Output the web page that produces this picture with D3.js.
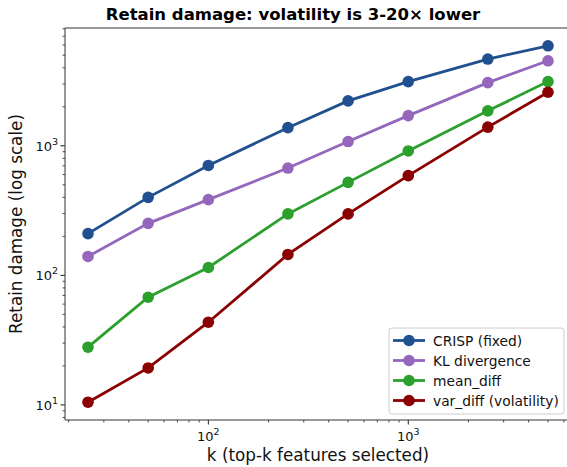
<!DOCTYPE html>
<html>
<head>
<meta charset="utf-8">
<script src="https://cdn.jsdelivr.net/npm/d3@7"></script>
<style>
  body { margin: 0; background: #fff; }
  svg { font-family: "DejaVu Sans", sans-serif; }
</style>
</head>
<body>
<div id="chart"></div>
<script>
// data
const kValues = [25, 50, 100, 250, 500, 1000, 2500, 5000];
const crisp   = [210, 400, 705, 1380, 2220, 3130, 4670, 5910];
const klDiv   = [140, 252, 384, 673, 1078, 1710, 3070, 4530];
const meanDiff = [27.9, 67.8, 115, 298, 522, 912, 1860, 3130];
const varDiff = [10.5, 19.3, 43.5, 145, 298, 588, 1393, 2590];
const seriesNames = ["CRISP (fixed)", "KL divergence", "mean_diff", "var_diff (volatility)"];
const seriesColors = ["#20508f", "#9467bd", "#2ca02c", "#8b0000"];
const xTickValues = [100, 1000];
const yTickValues = [10, 100, 1000];

const width = 567, height = 467;
const margin = {top: 28, right: -4, bottom: 47, left: 65};

const series = [crisp, klDiv, meanDiff, varDiff].map((vals, i) => ({
  name: seriesNames[i], color: seriesColors[i],
  points: vals.map((v, j) => ({k: kValues[j], v: v}))
}));

const svg = d3.select("#chart").append("svg")
  .attr("width", width).attr("height", height);

// log domains padded like matplotlib (5% of log span)
function padLog(lo, hi) {
  const a = Math.log10(lo), b = Math.log10(hi), p = (b - a) * 0.05;
  return [Math.pow(10, a - p), Math.pow(10, b + p)];
}
const allV = [].concat(crisp, klDiv, meanDiff, varDiff);

const x = d3.scaleLog()
  .domain(padLog(d3.min(kValues), d3.max(kValues)))
  .range([margin.left, width - margin.right]);
const y = d3.scaleLog()
  .domain(padLog(d3.min(allV), d3.max(allV)))
  .range([height - margin.bottom, margin.top]);

const x0 = margin.left, x1 = width - margin.right;
const y0 = height - margin.bottom, y1 = margin.top;

// minor ticks
function minorTicks(scale) {
  const [lo, hi] = scale.domain();
  const out = [];
  for (let e = Math.floor(Math.log10(lo)); e <= Math.ceil(Math.log10(hi)); e++) {
    for (let m = 2; m <= 9; m++) {
      const v = m * Math.pow(10, e);
      if (v >= lo && v <= hi) out.push(v);
    }
  }
  return out;
}

const ax = svg.append("g");
ax.selectAll(".xminor").data(minorTicks(x)).enter().append("line")
  .attr("x1", d => x(d)).attr("x2", d => x(d))
  .attr("y1", y0).attr("y2", y0 + 2.5)
  .attr("stroke", "#000").attr("stroke-width", 0.7);
ax.selectAll(".yminor").data(minorTicks(y)).enter().append("line")
  .attr("y1", d => y(d)).attr("y2", d => y(d))
  .attr("x1", x0).attr("x2", x0 - 2.5)
  .attr("stroke", "#000").attr("stroke-width", 0.7);
ax.selectAll(".xmajor").data(xTickValues).enter().append("line")
  .attr("x1", d => x(d)).attr("x2", d => x(d))
  .attr("y1", y0).attr("y2", y0 + 4.5)
  .attr("stroke", "#000").attr("stroke-width", 0.9);
ax.selectAll(".ymajor").data(yTickValues).enter().append("line")
  .attr("y1", d => y(d)).attr("y2", d => y(d))
  .attr("x1", x0).attr("x2", x0 - 4.5)
  .attr("stroke", "#000").attr("stroke-width", 0.9);

// tick labels as 10^n
function powLabel(sel) {
  sel.each(function(d) {
    const t = d3.select(this);
    t.append("tspan").text("10");
    t.append("tspan").attr("dy", -6).attr("font-size", 9.5)
      .text(Math.round(Math.log10(d)));
  });
}
ax.selectAll(".xlab").data(xTickValues).enter().append("text")
  .attr("x", d => x(d)).attr("y", y0 + 21)
  .attr("text-anchor", "middle").attr("font-size", 13).attr("fill", "#111")
  .call(powLabel);
ax.selectAll(".ylab").data(yTickValues).enter().append("text")
  .attr("x", x0 - 7).attr("y", d => y(d) + 5)
  .attr("text-anchor", "end").attr("font-size", 13).attr("fill", "#111")
  .call(powLabel);

// lines and markers
const line = d3.line().x(d => x(d.k)).y(d => y(d.v));
const g = svg.append("g");
series.forEach(s => {
  g.append("path").datum(s.points)
    .attr("d", line).attr("fill", "none")
    .attr("stroke", s.color).attr("stroke-width", 2.8);
  g.selectAll(null).data(s.points).enter().append("circle")
    .attr("cx", d => x(d.k)).attr("cy", d => y(d.v)).attr("r", 5.8)
    .attr("fill", s.color);
});

// spines
svg.append("path")
  .attr("d", `M${x1},${y1}H${x0}V${y0}H${x1}`)
  .attr("fill", "none").attr("stroke", "#333").attr("stroke-width", 1);

// title and axis labels
svg.append("text").attr("x", 293).attr("y", 20)
  .attr("text-anchor", "middle").attr("font-size", 16.5).attr("font-weight", "bold")
  .text("Retain damage: volatility is 3-20× lower");
svg.append("text").attr("x", (x0 + x1) / 2).attr("y", 461)
  .attr("text-anchor", "middle").attr("font-size", 16.8).attr("fill", "#111")
  .text("k (top-k features selected)");
svg.append("text")
  .attr("transform", `translate(22,${(y0 + y1) / 2}) rotate(-90)`)
  .attr("text-anchor", "middle").attr("font-size", 16.8).attr("fill", "#111")
  .text("Retain damage (log scale)");

// legend
const lg = svg.append("g").attr("transform", "translate(389,328)");
lg.append("rect").attr("width", 175).attr("height", 86).attr("rx", 3)
  .attr("fill", "#fff").attr("fill-opacity", 0.8)
  .attr("stroke", "#ccc").attr("stroke-width", 1);
series.forEach((s, i) => {
  const ly = 12.5 + i * 20;
  lg.append("line").attr("x1", 4).attr("x2", 36).attr("y1", ly).attr("y2", ly)
    .attr("stroke", s.color).attr("stroke-width", 2.8);
  lg.append("circle").attr("cx", 20).attr("cy", ly).attr("r", 5.8).attr("fill", s.color);
  lg.append("text").attr("x", 44).attr("y", ly + 5)
    .attr("font-size", 13.8).attr("fill", "#111").text(s.name);
});
</script>
</body>
</html>
